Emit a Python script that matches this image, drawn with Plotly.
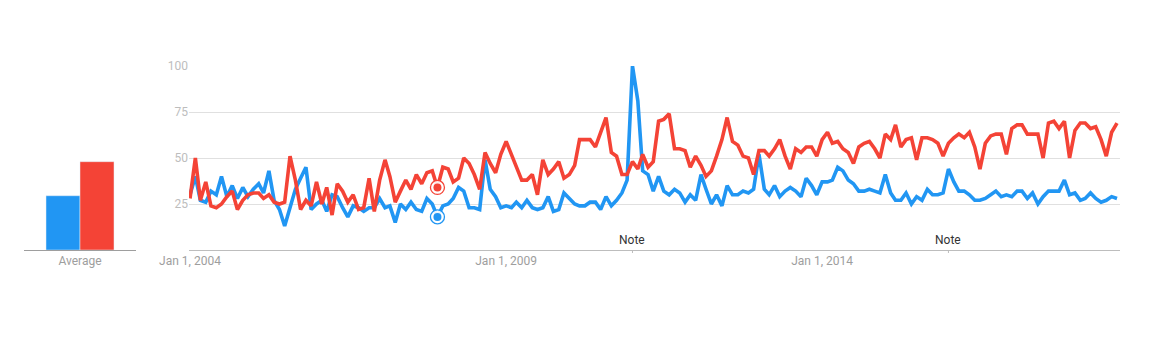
import plotly.graph_objects as go
import pandas as pd

# ---- data ----
start_month = "2004-01-01"
blue_values = [30, 40, 27, 26, 32, 30, 40, 29, 35, 28, 34, 29, 33, 36, 31, 43, 27, 22, 13, 23, 33,
               39, 45, 22, 25, 27, 21, 30, 29, 23, 18, 24, 23, 21, 23, 23, 28, 23, 24, 15, 25, 22, 26,
               22, 21, 28, 25, 18, 24, 25, 28, 34, 32, 23, 23, 22, 49, 33, 29, 23, 24, 23, 26, 23, 27,
               23, 22, 23, 29, 21, 22, 31, 28, 25, 24, 24, 26, 26, 22, 29, 24, 27, 31, 38, 100, 81, 43,
               41, 32, 40, 32, 30, 33, 31, 26, 30, 27, 41, 33, 25, 30, 24, 35, 30, 30, 32, 31, 33, 52,
               33, 30, 35, 29, 32, 34, 32, 29, 39, 35, 30, 37, 37, 38, 45, 43, 38, 36, 32, 32, 33, 32,
               31, 41, 31, 27, 27, 31, 25, 29, 27, 33, 30, 30, 31, 44, 37, 32, 32, 30, 27, 27, 28,
               30, 32, 29, 30, 29, 32, 32, 28, 31, 25, 29, 32, 32, 32, 38, 30, 31, 27, 28, 31, 28, 26, 27, 29, 28]
red_values = [28, 50, 27, 37, 24, 23, 25, 29, 32, 22, 27, 30, 31, 31, 28, 30, 26, 25, 26, 51, 38,
              22, 27, 24, 37, 25, 34, 19, 36, 32, 26, 30, 22, 23, 39, 21, 38, 49, 40, 26, 32, 38, 33,
              41, 36, 42, 43, 34, 45, 44, 37, 39, 50, 47, 41, 33, 53, 47, 42, 52, 59, 52, 45, 38, 38,
              41, 30, 49, 41, 44, 48, 39, 41, 46, 60, 60, 60, 56, 64, 72, 53, 51, 41, 41, 48, 44, 52,
              45, 48, 70, 71, 74, 55, 55, 54, 45, 51, 46, 40, 43, 51, 60, 72, 59, 57, 51, 50, 41, 54,
              54, 51, 55, 60, 51, 44, 55, 53, 56, 56, 51, 60, 64, 58, 59, 55, 53, 47, 56, 58, 59, 55,
              50, 63, 60, 68, 56, 60, 61, 49, 61, 61, 60, 58, 51, 58, 61, 63, 61, 64, 56, 44, 58,
              62, 63, 63, 52, 66, 68, 68, 63, 63, 63, 50, 69, 70, 66, 70, 50, 65, 69, 69, 66, 67, 60, 51, 64, 69]
averages = [29.5, 48]
avg_label = "Average"
marked_index = 47
note_dates = ["2011-01-01", "2016-01-01"]
note_text = "Note"
x_tick_dates = ["2004-01-01", "2009-01-01", "2014-01-01"]
x_tick_text = ["Jan 1, 2004", "Jan 1, 2009", "Jan 1, 2014"]
y_tick_vals = [25, 50, 75, 100]
y_tick_text = ["25", "50", "75", "100"]

BLUE = "#2196f3"
RED = "#f44336"
W, H = 1152, 338

dates = pd.date_range(start_month, periods=len(blue_values), freq="MS")

fig = go.Figure()

# average bars
fig.add_trace(go.Bar(x=[avg_label], y=[averages[0]], marker_color=BLUE, xaxis="x2", yaxis="y2",
                     showlegend=False, hoverinfo="skip"))
fig.add_trace(go.Bar(x=[avg_label], y=[averages[1]], marker_color=RED, xaxis="x2", yaxis="y2",
                     showlegend=False, hoverinfo="skip"))

# time series
fig.add_trace(go.Scatter(x=dates, y=blue_values, mode="lines", line=dict(color=BLUE, width=3.6),
                         showlegend=False))
fig.add_trace(go.Scatter(x=dates, y=red_values, mode="lines", line=dict(color=RED, width=3.6),
                         showlegend=False))

# highlighted point markers
for vals, col in ((red_values, RED), (blue_values, BLUE)):
    fig.add_trace(go.Scatter(x=[dates[marked_index]], y=[vals[marked_index]], mode="markers",
                             marker=dict(symbol="circle", size=14, color="rgba(255,255,255,0.9)",
                                         line=dict(color=col, width=1.3)),
                             showlegend=False))
    fig.add_trace(go.Scatter(x=[dates[marked_index]], y=[vals[marked_index]], mode="markers",
                             marker=dict(symbol="circle", size=8, color=col),
                             showlegend=False))

def px_x(p):
    return p / W

# pixel mapping for main x axis: first month at 190px, last at 1117px
d0 = pd.Timestamp(dates[0]); d1 = pd.Timestamp(dates[-1])
dom_l, dom_r = 189, 1120
ppd = (1117 - 190) / (d1 - d0).days
r0 = (d0 - pd.Timedelta(days=(190 - dom_l) / ppd)).strftime("%Y-%m-%d %H:%M:%S")
r1 = (d1 + pd.Timedelta(days=(dom_r - 1117) / ppd)).strftime("%Y-%m-%d %H:%M:%S")

font_fam = "Roboto, Arial, sans-serif"
tick_col = "#9e9e9e"

annotations = []
shapes = []
for nd in note_dates:
    annotations.append(dict(x=nd, xref="x", y=(250 - 239.5) / 184, yref="paper", text=note_text,
                            showarrow=False, font=dict(family=font_fam, size=12, color="#333333"),
                            xanchor="center", yanchor="middle"))
    shapes.append(dict(type="line", xref="x", yref="paper", x0=nd, x1=nd, y0=0, y1=-3 / 184,
                       line=dict(color="#bdbdbd", width=1)))

fig.update_layout(
    width=W, height=H,
    margin=dict(l=0, r=0, t=66, b=88, autoexpand=False),
    paper_bgcolor="white", plot_bgcolor="white",
    barmode="group", bargap=1 - 68 / 112, bargroupgap=0,
    font=dict(family=font_fam, size=12, color=tick_col),
    xaxis=dict(domain=[px_x(dom_l), px_x(dom_r)], type="date", range=[r0, r1], automargin=False,
               tickvals=x_tick_dates, ticktext=x_tick_text, showgrid=False,
               showline=True, linecolor="#bdbdbd", linewidth=1, ticks="",
               tickfont=dict(size=12, color=tick_col), zeroline=False),
    yaxis=dict(range=[0, 100], tickvals=y_tick_vals, ticktext=y_tick_text, automargin=False,
               showgrid=True, gridcolor="#e0e0e0", gridwidth=1, zeroline=False,
               tickfont=dict(size=12, color="#bdbdbd"), ticks="", showline=False),
    xaxis2=dict(domain=[px_x(24), px_x(136)], anchor="y2", showgrid=False, showline=True,
                automargin=False, linecolor="#9e9e9e", linewidth=1, ticks="",
                tickfont=dict(size=12, color=tick_col)),
    yaxis2=dict(domain=[0, 1], anchor="x2", range=[0, 100], showgrid=False, showticklabels=False,
                automargin=False, zeroline=False, showline=False),
    annotations=annotations,
    shapes=shapes,
)

fig.write_html("out.html")
